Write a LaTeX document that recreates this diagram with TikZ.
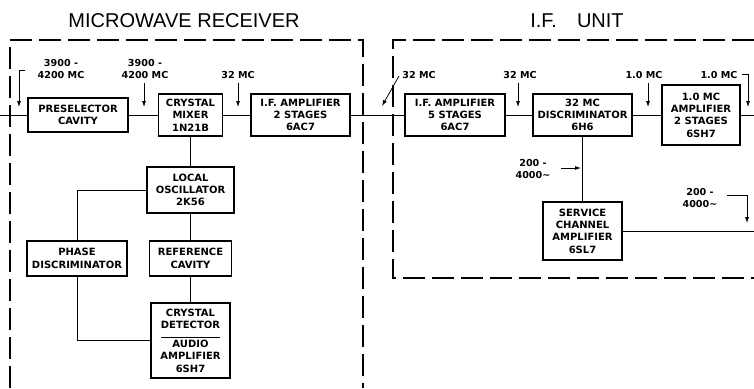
\documentclass[tikz,border=0pt]{standalone}
\usepackage{fontspec}
\setmainfont{DejaVu Sans}
\newfontfamily\titlefont{Liberation Sans}
\usetikzlibrary{arrows.meta}
\begin{document}
\begin{tikzpicture}[x=1pt,y=-1pt,
  blk/.style={draw, line width=1.3pt, align=center, inner sep=0pt,
    font=\bfseries\fontsize{10}{12.3}\selectfont},
  lbl/.style={align=center, inner sep=0pt, font=\bfseries\fontsize{9.6}{12}\selectfont},
  wire/.style={line width=0.75pt},
  arr/.style={line width=0.75pt, -{Latex[length=6pt,width=4pt]}},
  frame/.style={line width=1.5pt, dash pattern=on 22pt off 7pt},
  ttl/.style={inner sep=0pt, font=\titlefont\fontsize{20}{24}\selectfont}]
\useasboundingbox (0,0) rectangle (754,388);

% titles
\node[ttl] (title1) at (184,21) {MICROWAVE RECEIVER};
\node[ttl] (title2) at (577,21) {I.F.\hspace{20pt}UNIT};

% dashed frames
\coordinate (f1a) at (10,388);
\coordinate (f1b) at (10,40);
\coordinate (f1c) at (363,40);
\coordinate (f1d) at (363,388);
\draw[frame] (f1a) -- (f1b) -- (f1c) -- (f1d);
\coordinate (f2a) at (754,40);
\coordinate (f2b) at (393,40);
\coordinate (f2c) at (393,278);
\coordinate (f2d) at (754,278);
\draw[frame] (f2a) -- (f2b) -- (f2c) -- (f2d);

% blocks
\node[blk, minimum width=100, minimum height=34] (pre) at (78,115) {PRESELECTOR\\CAVITY};
\node[blk, minimum width=64, minimum height=42] (mix) at (190.5,115) {CRYSTAL\\MIXER\\1N21B};
\node[blk, minimum width=99, minimum height=42] (ifl) at (300.5,115) {I.F. AMPLIFIER\\2 STAGES\\6AC7};
\node[blk, minimum width=100, minimum height=42] (ifr) at (455,115) {I.F. AMPLIFIER\\5 STAGES\\6AC7};
\node[blk, minimum width=99, minimum height=42] (disc) at (582.5,115) {32 MC\\DISCRIMINATOR\\6H6};
\node[blk, minimum width=78, minimum height=60] (amp) at (701,115) {1.0 MC\\AMPLIFIER\\2 STAGES\\6SH7};
\node[blk, minimum width=87, minimum height=46] (lo) at (190.5,190) {LOCAL\\OSCILLATOR\\2K56};
\node[blk, minimum width=100, minimum height=35] (phase) at (77,258.5) {PHASE\\DISCRIMINATOR};
\node[blk, minimum width=82, minimum height=35] (ref) at (190.5,258.5) {REFERENCE\\CAVITY};
\node[blk, minimum width=79, minimum height=75] (det) at (190.5,340.5) {CRYSTAL\\DETECTOR\\[7pt]AUDIO\\AMPLIFIER\\6SH7};
\draw[line width=1pt] ([xshift=-29.5pt,yshift=3.5pt]det.center) -- ([xshift=29.5pt,yshift=3.5pt]det.center);
\node[blk, minimum width=79, minimum height=58] (serv) at (582.5,231) {SERVICE\\CHANNEL\\AMPLIFIER\\6SL7};

% signal chain
\coordinate (inL) at (0,115);
\coordinate (outR) at (754,115);
\coordinate (outS) at (754,231);
\draw[wire] (inL) -- (pre) -- (mix) -- (ifl) -- (ifr) -- (disc) -- (amp) -- (outR);
\draw[wire] (mix) -- (lo);
\draw[wire] (lo.west) -| (phase.north);
\draw[wire] (lo) -- (ref);
\draw[wire] (ref) -- (det);
\draw[wire] (phase.south) |- (det.west);
\draw[wire] (disc) -- (serv);
\draw[wire] (serv.east) -- (outS);

% labels and arrows
\node[lbl] (t1) at (61,69) {3900 -\\4200 MC};
\coordinate (a1s) at (25,70); \coordinate (a1e) at (19,107);
\draw[arr] (a1s) -| (a1e);

\node[lbl] (t2) at (145,69) {3900 -\\4200 MC};
\coordinate (a2s) at (144,83); \coordinate (a2e) at (144,107);
\draw[arr] (a2s) -- (a2e);

\node[lbl] (t3) at (238,75) {32 MC};
\coordinate (a3s) at (238,83); \coordinate (a3e) at (238,107);
\draw[arr] (a3s) -- (a3e);

\node[lbl] (t4) at (419,75) {32 MC};
\coordinate (a4s) at (399,76); \coordinate (a4e) at (382,106);
\draw[arr] (a4s) -- (a4e);

\node[lbl] (t5) at (520,75) {32 MC};
\coordinate (a5s) at (518,83); \coordinate (a5e) at (518,107);
\draw[arr] (a5s) -- (a5e);

\node[lbl] (t6) at (644,75) {1.0 MC};
\coordinate (a6s) at (648,83); \coordinate (a6e) at (648,107);
\draw[arr] (a6s) -- (a6e);

\node[lbl] (t7) at (719,75) {1.0 MC};
\coordinate (a7s) at (742,74); \coordinate (a7e) at (748,107);
\draw[arr] (a7s) -| (a7e);

\node[lbl] (t8) at (533,169) {200 -\\4000\textasciitilde};
\coordinate (a8s) at (561,168); \coordinate (a8e) at (581,168);
\draw[arr] (a8s) -- (a8e);

\node[lbl] (t9) at (700,198) {200 -\\4000\textasciitilde};
\coordinate (a9s) at (727,195); \coordinate (a9e) at (747,223);
\draw[arr] (a9s) -| (a9e);
\end{tikzpicture}
\end{document}
